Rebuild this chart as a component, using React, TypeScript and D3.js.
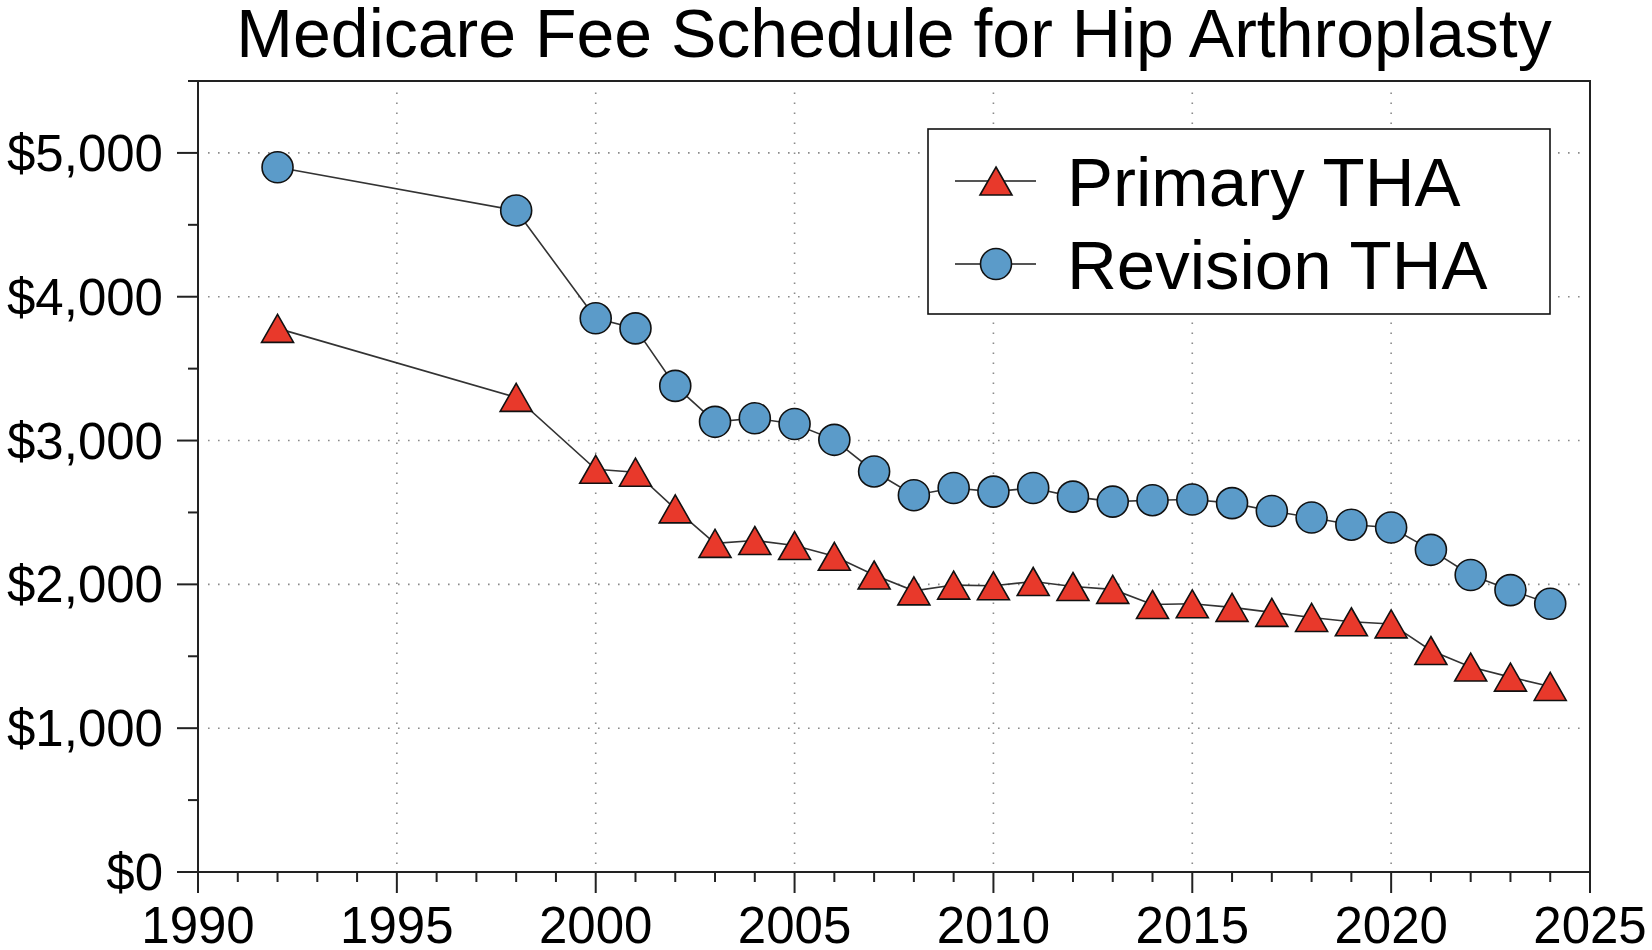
import * as d3 from 'd3'

const years = [1992, 1998, 2000, 2001, 2002, 2003, 2004, 2005, 2006, 2007, 2008, 2009, 2010, 2011, 2012, 2013, 2014, 2015, 2016, 2017, 2018, 2019, 2020, 2021, 2022, 2023, 2024]
const primaryTHA = [3780, 3300, 2800, 2780, 2525, 2285, 2305, 2270, 2195, 2065, 1955, 1995, 1990, 2020, 1985, 1965, 1860, 1865, 1840, 1805, 1770, 1740, 1725, 1540, 1425, 1355, 1290]
const revisionTHA = [4900, 4600, 3850, 3780, 3380, 3130, 3155, 3115, 3005, 2785, 2620, 2670, 2645, 2670, 2610, 2575, 2585, 2590, 2565, 2510, 2465, 2415, 2395, 2240, 2065, 1960, 1865]
const xTicks = [1990, 1995, 2000, 2005, 2010, 2015, 2020, 2025]
const yTicks = [0, 1000, 2000, 3000, 4000, 5000]
const seriesNames = ['Primary THA', 'Revision THA']

const W = 1652
const H = 950
const left = 198
const right = 1590
const top = 81
const bottom = 872
const FONT = "Helvetica, 'Liberation Sans', Arial, sans-serif"
const RED = '#e8392b'
const BLUE = '#5b9bc9'

const x = d3.scaleLinear().domain([1990, 2025]).range([left, right])
const y = d3.scaleLinear().domain([0, 5500]).range([bottom, top])

const fmt = (v: number) => '$' + d3.format(',')(v)

function Triangle({ cx, cy }: { cx: number; cy: number }) {
  const hw = 16
  const hh = 14
  return (
    <path
      d={`M${cx},${cy - hh}L${cx + hw},${cy + hh}L${cx - hw},${cy + hh}Z`}
      fill={RED}
      stroke="#111"
      strokeWidth={1.6}
      strokeLinejoin="miter"
    />
  )
}

function Dot({ cx, cy }: { cx: number; cy: number }) {
  return <circle cx={cx} cy={cy} r={15.5} fill={BLUE} stroke="#111" strokeWidth={1.6} />
}

export default function App() {
  const line = d3.line<number>()
    .x((_, i) => x(years[i]))
    .y(d => y(d))

  const minorX = d3.range(1990, 2026)
  const minorY = d3.range(0, 5501, 500)
  const gridX = xTicks.filter(t => t > 1990 && t < 2025)
  const gridY = yTicks.filter(t => t > 0)

  const legX = 928
  const legY = 129
  const legW = 622
  const legH = 185
  const rows = [legY + 52, legY + 135]

  return (
    <svg
      width={W}
      height={H}
      style={{ position: 'absolute', left: 0, top: 0, background: '#fff' }}
      fontFamily={FONT}
    >
      <rect width={W} height={H} fill="#fff" />

      {/* title */}
      <text x={(left + right) / 2} y={57} textAnchor="middle" fontSize={68} fill="#000">
        Medicare Fee Schedule for Hip Arthroplasty
      </text>

      {/* grid */}
      <g stroke="#8a8a8a" strokeWidth={1.6} strokeDasharray="1.6,8.4">
        {gridX.map(t => (
          <line key={'gx' + t} x1={x(t)} x2={x(t)} y1={bottom - 8} y2={top + 4} />
        ))}
        {gridY.map(t => (
          <line key={'gy' + t} x1={left + 10} x2={right - 2} y1={y(t)} y2={y(t)} />
        ))}
      </g>

      {/* frame */}
      <rect x={left} y={top} width={right - left} height={bottom - top} fill="none" stroke="#222" strokeWidth={2} />

      {/* y ticks */}
      <g stroke="#222" strokeWidth={2}>
        {minorY.map(t => (
          <line key={'my' + t} x1={left - (t % 1000 === 0 ? 21 : 10)} x2={left} y1={y(t)} y2={y(t)} />
        ))}
        {minorX.map(t => (
          <line key={'mx' + t} x1={x(t)} x2={x(t)} y1={bottom} y2={bottom + (t % 5 === 0 ? 21 : 10)} />
        ))}
      </g>

      <g fontSize={51} fill="#000">
        {yTicks.map(t => (
          <text key={'ly' + t} x={left - 35} y={y(t) + 18} textAnchor="end">
            {fmt(t)}
          </text>
        ))}
        {xTicks.map(t => (
          <text key={'lx' + t} x={x(t)} y={943} textAnchor="middle">
            {t}
          </text>
        ))}
      </g>

      {/* series */}
      <path d={line(primaryTHA) || ''} fill="none" stroke="#333" strokeWidth={1.6} />
      <path d={line(revisionTHA) || ''} fill="none" stroke="#333" strokeWidth={1.6} />
      {revisionTHA.map((v, i) => (
        <Dot key={'r' + i} cx={x(years[i])} cy={y(v)} />
      ))}
      {primaryTHA.map((v, i) => (
        <Triangle key={'p' + i} cx={x(years[i])} cy={y(v)} />
      ))}

      {/* legend */}
      <rect x={legX} y={legY} width={legW} height={legH} fill="#fff" stroke="#111" strokeWidth={1.6} />
      {seriesNames.map((name, i) => (
        <g key={name}>
          <line x1={legX + 27} x2={legX + 108} y1={rows[i]} y2={rows[i]} stroke="#555" strokeWidth={2} />
          {i === 0 ? <Triangle cx={legX + 68} cy={rows[i]} /> : <Dot cx={legX + 68} cy={rows[i]} />}
          <text x={legX + 139} y={rows[i] + 25} fontSize={69} fill="#000">
            {name}
          </text>
        </g>
      ))}
    </svg>
  )
}
